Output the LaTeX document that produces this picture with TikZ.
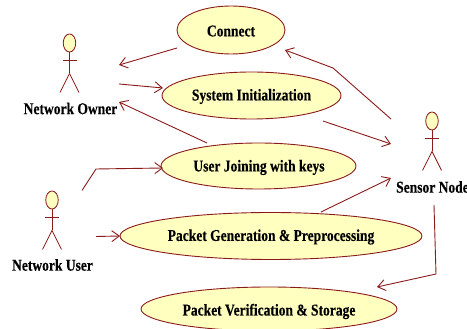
\documentclass[tikz,border=0pt]{standalone}
\usepackage{fontspec}
\setmainfont[FakeStretch=0.82,BoldFeatures={FakeBold=0.25}]{Liberation Serif}
\usetikzlibrary{arrows.meta,shapes.geometric}
\definecolor{umlline}{HTML}{8B1A1A}
\definecolor{umlfill}{HTML}{FFFFC0}
\tikzset{
  usecase/.style={ellipse,draw=umlline,fill=umlfill,line width=0.9pt,inner sep=0pt,outer sep=0pt},
  actorhead/.style={ellipse,draw=umlline,fill=umlfill,line width=0.8pt,minimum width=12.5pt,minimum height=18pt,inner sep=0pt},
  actorline/.style={draw=umlline,line width=0.8pt},
  lbl/.style={font=\fontsize{16.5}{16.5}\selectfont\bfseries,text=black,inner sep=0pt},
  flow/.style={draw=umlline,line width=0.9pt,-{Straight Barb[length=7.5pt,width=11pt,line width=0.9pt]}},
}
\newcommand{\actorfig}[3]{%
  \node[actorhead] (#1) at (#2,#3) {};
  \draw[actorline] (#1.south) -- ++(0,-21) coordinate (#1hip);
  \draw[actorline] (#2-7,#3-17) -- (#2+7,#3-17);
  \draw[actorline] (#1hip) -- ++(-9.5,-19);
  \draw[actorline] (#1hip) -- ++(9.5,-19);
}
\begin{document}
\begin{tikzpicture}[x=1pt,y=1pt]
\useasboundingbox (0,0) rectangle (467,329);
\clip (0,0) rectangle (467,329);
\node[usecase,minimum width=108pt,minimum height=48pt] (connect) at (231,299) {};
\node[lbl] (connectT) at (231,298) {Connect};
\node[usecase,minimum width=179pt,minimum height=47pt] (sysinit) at (251.5,233.5) {};
\node[lbl] (sysinitT) at (251.5,232.5) {System Initialization};
\node[usecase,minimum width=195pt,minimum height=46pt] (join) at (258.5,163) {};
\node[lbl] (joinT) at (259,161.5) {User Joining with keys};
\node[usecase,minimum width=302pt,minimum height=47pt] (gen) at (271,93) {};
\node[lbl] (genT) at (271,92) {Packet Generation \& Preprocessing};
\node[usecase,minimum width=256pt,minimum height=44pt] (verify) at (269,20) {};
\node[lbl] (verifyT) at (269,17.5) {Packet Verification \& Storage};

\actorfig{ownerhead}{69.5}{286}
\node[lbl] (owner) at (70.5,220.5) {Network Owner};
\actorfig{userhead}{52}{129}
\node[lbl] (user) at (52.5,64) {Network User};
\actorfig{sensorhead}{432}{208}
\node[lbl,anchor=west] (sensor) at (396,142) {Sensor Node};

\coordinate (ownerA) at (119,264);
\coordinate (ownerB) at (119,245);
\coordinate (ownerC) at (119,227);
\coordinate (userA) at (82,138.5);
\coordinate (userB) at (96,92.5);
\coordinate (sensorA) at (391,210);
\coordinate (sensorB) at (391,185);
\coordinate (sensorC) at (391,151);
\coordinate (sensorD) at (434,124);
\coordinate (connectIn) at (285,279);
\coordinate (connectOut) at (177,281);
\coordinate (sysinitIn) at (163,241);
\coordinate (sysinitOut) at (323,208);
\coordinate (joinIn) at (163,161);
\coordinate (joinOut) at (207,186);
\coordinate (genOut) at (321,117);
\coordinate (verifyIn) at (377,42);

\draw[flow] (connectOut) -- (ownerA);
\draw[flow] (ownerB) -- (sysinitIn);
\draw[flow] (joinOut) -- (ownerC);
\draw[flow] (userA) -- (96,160) -- (joinIn);
\draw[flow] (userB) -- (gen.west);
\draw[flow] (genOut) -- (sensorC);
\draw[flow] (sensorD) -- (436,55) -- (verifyIn);
\draw[flow] (sensorA) -- (333,261) -- (connectIn);
\draw[flow] (sysinitOut) -- (sensorB);
\end{tikzpicture}
\end{document}
